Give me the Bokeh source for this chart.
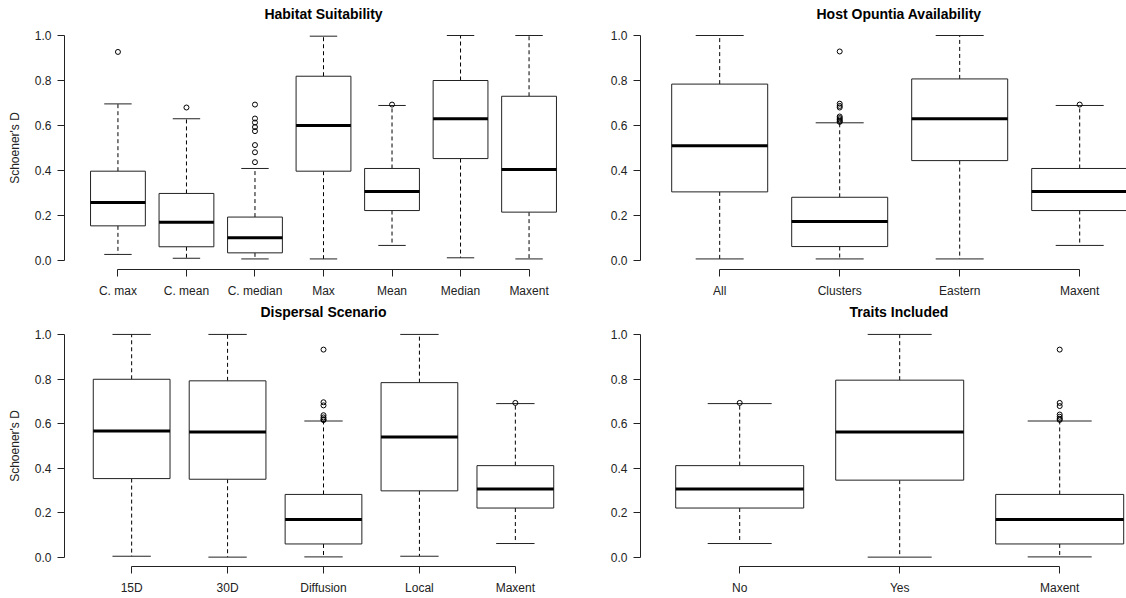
from bokeh.plotting import figure
from bokeh.layouts import column, row
from bokeh.models import FixedTicker, NumeralTickFormatter, Range1d, Title
from bokeh.embed import file_html
from bokeh.resources import INLINE

FONT = "Liberation Sans"
TXT = "#222222"

# ---------------- data ----------------
hab_cats = ["C. max", "C. mean", "C. median", "Max", "Mean", "Median", "Maxent"]
hab_low = [0.027, 0.010, 0.007, 0.007, 0.067, 0.012, 0.007]
hab_q1 = [0.154, 0.061, 0.034, 0.397, 0.222, 0.453, 0.215]
hab_med = [0.258, 0.170, 0.101, 0.600, 0.307, 0.630, 0.404]
hab_q3 = [0.397, 0.298, 0.193, 0.819, 0.409, 0.800, 0.730]
hab_high = [0.696, 0.630, 0.409, 0.997, 0.689, 1.000, 1.000]
hab_out = [[0.927], [0.680], [0.693, 0.631, 0.613, 0.593, 0.575, 0.513, 0.481, 0.437],
           [], [0.693], [], []]

host_cats = ["All", "Clusters", "Eastern", "Maxent"]
host_low = [0.007, 0.007, 0.007, 0.067]
host_q1 = [0.305, 0.062, 0.444, 0.222]
host_med = [0.510, 0.173, 0.630, 0.307]
host_q3 = [0.784, 0.281, 0.807, 0.409]
host_high = [1.000, 0.612, 1.000, 0.689]
host_out = [[], [0.929, 0.697, 0.687, 0.680, 0.640, 0.633, 0.627, 0.620, 0.616], [], [0.693]]

disp_cats = ["15D", "30D", "Diffusion", "Local", "Maxent"]
disp_low = [0.006, 0.002, 0.003, 0.006, 0.063]
disp_q1 = [0.354, 0.351, 0.061, 0.299, 0.222]
disp_med = [0.567, 0.563, 0.171, 0.540, 0.307]
disp_q3 = [0.799, 0.792, 0.283, 0.784, 0.412]
disp_high = [1.000, 1.000, 0.612, 1.000, 0.690]
disp_out = [[], [], [0.932, 0.696, 0.682, 0.638, 0.628, 0.620, 0.616], [], [0.693]]

trait_cats = ["No", "Yes", "Maxent"]
trait_low = [0.063, 0.002, 0.003]
trait_q1 = [0.222, 0.347, 0.061]
trait_med = [0.307, 0.563, 0.171]
trait_q3 = [0.412, 0.795, 0.283]
trait_high = [0.690, 1.000, 0.612]
trait_out = [[0.693], [], [0.932, 0.693, 0.679, 0.641, 0.631, 0.622, 0.617]]

titles = ["Habitat Suitability", "Host Opuntia Availability", "Dispersal Scenario", "Traits Included"]
y_ticks = [0.0, 0.2, 0.4, 0.6, 0.8, 1.0]


def style_title(t, offset, standoff):
    t.text_font = FONT
    t.text_font_size = "14px"
    t.text_font_style = "bold"
    t.text_color = "black"
    t.standoff = standoff
    t.vertical_align = "middle"
    if offset is None:
        t.align = "center"
    else:
        t.align = "left"
        t.offset = offset


def panel(cats, low, q1, med, q3, high, outs, x_end, fw, fh,
          b_left, b_right, b_top, b_bottom, x_standoff, ylabel=None,
          title=None, title_offset=None, below_title=None, below_offset=None):
    n = len(cats)
    x0 = 0.5 - 0.04 * n
    p = figure(frame_width=fw, frame_height=fh, output_backend="svg", toolbar_location=None,
               x_range=Range1d(x0, x_end), y_range=Range1d(-0.04, 1.04),
               min_border_left=b_left, min_border_right=b_right,
               min_border_top=b_top, min_border_bottom=b_bottom,
               background_fill_color="white", border_fill_color="white")
    p.outline_line_color = None
    p.grid.visible = False
    xs = list(range(1, n + 1))
    bw = 0.4
    cw = 0.2
    # whiskers
    p.segment(x0=xs, y0=q3, x1=xs, y1=high, line_color="black", line_width=1, line_dash="4 3")
    p.segment(x0=xs, y0=q1, x1=xs, y1=low, line_color="black", line_width=1, line_dash="4 3")
    # caps
    p.segment(x0=[x - cw for x in xs], y0=high, x1=[x + cw for x in xs], y1=high,
              line_color="#222222", line_width=1)
    p.segment(x0=[x - cw for x in xs], y0=low, x1=[x + cw for x in xs], y1=low,
              line_color="#222222", line_width=1)
    # boxes
    p.quad(left=[x - bw for x in xs], right=[x + bw for x in xs], bottom=q1, top=q3,
           fill_color="white", line_color="#222222", line_width=1)
    # medians
    p.segment(x0=[x - bw for x in xs], y0=med, x1=[x + bw for x in xs], y1=med,
              line_color="black", line_width=3)
    # outliers
    ox, oy = [], []
    for i, vals in enumerate(outs):
        for v in vals:
            ox.append(i + 1)
            oy.append(v)
    if ox:
        p.scatter(ox, oy, marker="circle", size=5, fill_color=None,
                  line_color="black", line_width=1)

    # axes
    xa = p.xaxis[0]
    xa.ticker = FixedTicker(ticks=xs)
    xa.major_label_overrides = {i + 1: c for i, c in enumerate(cats)}
    xa.bounds = (1, n)
    ya = p.yaxis[0]
    ya.ticker = FixedTicker(ticks=y_ticks)
    ya.formatter = NumeralTickFormatter(format="0.0")
    ya.bounds = (0, 1)
    for ax in (xa, ya):
        ax.minor_tick_line_color = None
        ax.major_tick_in = 0
        ax.major_tick_out = 7
        ax.axis_line_color = "#222222"
        ax.axis_line_width = 1
        ax.major_tick_line_color = "#222222"
        ax.major_label_text_font = FONT
        ax.major_label_text_font_size = "12px"
        ax.major_label_text_color = TXT
    xa.major_label_standoff = x_standoff
    ya.major_label_standoff = 6
    if ylabel:
        ya.axis_label = ylabel
        ya.axis_label_text_font = FONT
        ya.axis_label_text_font_size = "12px"
        ya.axis_label_text_font_style = "normal"
        ya.axis_label_text_color = TXT
        ya.axis_label_standoff = 10

    if title:
        p.title.text = title
        style_title(p.title, title_offset, 8)
    else:
        p.title.text = ""
    if below_title:
        bt = Title(text=below_title)
        style_title(bt, below_offset, 4)
        p.add_layout(bt, "below")
    return p


p1 = panel(hab_cats, hab_low, hab_q1, hab_med, hab_q3, hab_high, hab_out,
           7.78, 518, 243, 64, 18, 26, 56, 7, "Schoener's D",
           title=titles[0], below_title=titles[2])
p2 = panel(host_cats, host_low, host_q1, host_med, host_q3, host_high, host_out,
           4.39, 486, 243, 40, 0, 26, 56, 7,
           title=titles[1], title_offset=176, below_title=titles[3], below_offset=209)
p3 = panel(disp_cats, disp_low, disp_q1, disp_med, disp_q3, disp_high, disp_out,
           5.7, 518, 241, 64, 18, 0, 31, 7, "Schoener's D")
p4 = panel(trait_cats, trait_low, trait_q1, trait_med, trait_q3, trait_high, trait_out,
           3.4175, 486, 241, 40, 0, 0, 31, 7)

layout = column(row(p1, p2, spacing=0), row(p3, p4, spacing=0), spacing=0)
open("out.html", "w").write(file_html(layout, INLINE))
